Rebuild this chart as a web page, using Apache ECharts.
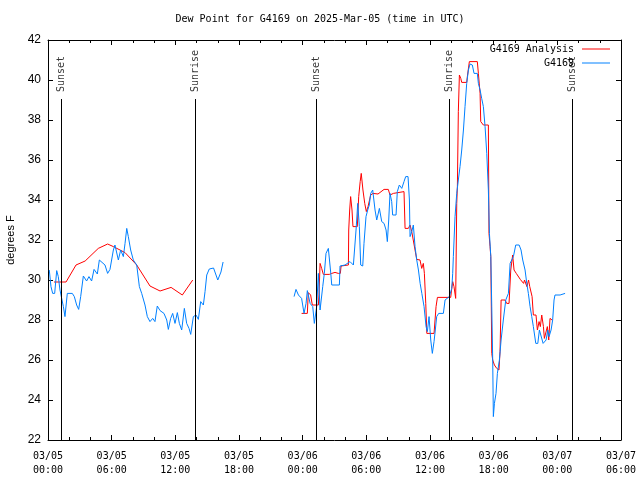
<!DOCTYPE html>
<html>
<head>
<meta charset="utf-8">
<script src="https://cdn.jsdelivr.net/npm/echarts@6/dist/echarts.min.js"></script>
<style>html,body{margin:0;padding:0;background:#fff;}#c{width:640px;height:480px;}</style>
</head>
<body>
<div id="c"></div>
<script>
// Hours since 2025-03-05 00:00 UTC
const analysisHours = [0.57,1.7,2.64,3.5,4.74,5.62,6.16,7.26,8.36,9.61,10.56,11.6,12.66,13.64,18,
  23.9,24.44,24.53,24.75,24.91,25.48,25.54,25.64,25.79,25.95,26.51,26.74,27.05,27.36,27.55,27.62,28.31,28.34,28.43,28.52,28.65,28.74,29.15,29.28,29.42,29.52,29.68,29.85,30.0,30.16,30.41,30.63,31.1,31.67,32.07,32.23,32.55,32.7,33.55,33.65,33.96,34.12,34.28,34.59,34.75,35.06,35.22,35.37,35.47,35.6,35.7,36.38,36.57,36.7,37.95,38.05,38.14,38.26,38.42,38.52,38.58,38.67,38.77,38.9,38.99,39.46,39.52,39.71,40.46,40.56,40.72,40.78,41.03,41.5,41.56,41.66,41.73,41.82,41.91,42.07,42.29,42.5,42.6,42.7,43.07,43.23,43.45,43.61,43.79,43.92,44.13,44.51,44.82,44.91,45.13,45.29,45.4,45.62,45.74,45.99,46.12,46.28,46.4,46.53,46.69,46.78,46.9,47.06,47.19,47.31,47.5];
const analysisValues = [29.9,29.9,30.75,30.95,31.58,31.8,31.67,31.37,30.75,29.7,29.45,29.63,29.25,30.0,null,
  28.33,28.33,29.37,29.25,28.75,28.75,29.25,30.83,30.58,30.28,30.28,30.33,30.38,30.33,30.33,30.7,30.75,32.5,33.5,34.17,33.5,32.67,32.67,34.17,34.92,35.33,34.5,33.83,33.42,33.67,34.25,34.33,34.3,34.53,34.53,34.25,34.33,34.42,34.42,32.58,32.58,32.75,32.42,31.5,31.03,31.0,30.58,30.83,30.33,28.83,27.33,27.33,28.67,29.13,29.13,29.58,29.92,29.67,29.08,33.83,34.67,38.42,40.25,40.08,39.88,39.88,40.17,40.92,40.92,40.33,39.33,37.92,37.75,37.75,32.33,31.67,31.17,26.33,26.0,25.75,25.58,25.5,26.42,29.0,29.0,28.83,28.83,30.5,31.25,30.5,30.33,30.03,29.83,30.0,29.67,30.0,29.67,29.17,28.25,28.25,27.5,27.92,27.67,28.25,27.67,27.08,27.1,27.67,27.0,28.08,28.0];

const stationHours = [0.12,0.28,0.44,0.63,0.82,0.97,1.13,1.32,1.45,1.6,1.82,2.29,2.48,2.7,2.89,3.08,3.33,3.64,3.86,4.11,4.34,4.65,4.84,5.37,5.62,5.84,6.16,6.31,6.63,6.85,7.1,7.26,7.42,7.57,7.79,8.04,8.36,8.61,8.83,9.14,9.36,9.61,9.87,10.08,10.3,10.56,10.93,11.19,11.34,11.56,11.75,11.97,12.19,12.38,12.6,12.85,13.07,13.29,13.45,13.7,13.95,14.17,14.39,14.64,14.8,14.96,15.2,15.6,16.0,16.3,16.5,19,
  23.19,23.37,23.6,23.9,24.13,24.32,24.44,24.7,24.95,25.1,25.32,25.48,25.64,25.89,26.04,26.2,26.42,26.65,26.74,27.46,27.52,27.99,28.46,28.78,29.03,29.19,29.34,29.47,29.66,29.78,29.97,30.13,30.28,30.41,30.6,30.82,30.98,31.23,31.45,31.67,31.86,31.98,32.11,32.23,32.39,32.48,32.8,32.92,33.11,33.34,33.55,33.71,33.93,34.06,34.12,34.28,34.43,34.59,34.75,34.91,35.07,35.23,35.44,35.63,35.75,35.91,36.07,36.22,36.38,36.5,36.63,36.82,37.26,37.42,37.82,37.95,38.05,38.14,38.2,38.36,38.52,38.67,38.83,38.99,39.15,39.3,39.46,39.62,39.77,39.99,40.15,40.31,40.46,40.56,40.72,40.87,41.03,41.19,41.35,41.5,41.6,41.73,41.82,41.91,41.97,42.07,42.22,42.35,42.54,42.7,42.91,43.14,43.39,43.55,43.7,43.86,44.08,44.4,44.58,44.74,44.96,45.12,45.27,45.43,45.59,45.74,45.97,46.16,46.31,46.46,46.66,46.94,47.1,47.22,47.41,47.56,47.69,47.78,48.26,48.73];
const stationValues = [30.5,29.67,29.33,29.33,30.47,30.17,29.5,29.0,28.67,28.17,29.33,29.33,29.17,28.75,28.53,29.17,30.2,29.95,30.17,29.95,30.53,30.3,31.0,30.75,30.33,30.53,31.5,31.75,31.0,31.5,31.17,31.83,32.58,32.17,31.5,31.0,30.75,29.67,29.33,28.75,28.17,27.92,28.08,27.92,28.7,28.47,28.33,28.0,27.53,28.08,28.33,27.83,28.37,27.83,27.5,28.58,27.83,27.58,27.28,28.17,28.25,28.03,28.92,28.75,29.42,30.25,30.55,30.6,30.0,30.4,30.9,null,
  29.17,29.53,29.25,29.08,28.33,28.83,29.47,28.83,28.67,27.83,28.67,30.33,28.5,29.67,30.33,31.33,31.58,30.33,29.75,29.75,30.7,30.75,30.92,30.75,32.5,33.83,32.67,30.75,30.7,31.83,33.17,33.5,33.75,34.33,34.5,33.5,33.0,33.58,32.92,32.83,32.5,31.92,33.0,34.33,33.92,33.25,33.25,34.42,34.75,34.58,34.92,35.17,35.17,34.0,32.17,32.42,32.75,31.67,31.0,30.5,29.83,29.33,28.67,27.67,27.42,28.17,27.0,26.33,26.92,27.5,28.17,28.33,28.33,29.0,29.17,29.17,29.58,30.33,31.17,33.17,34.33,35.0,35.67,36.5,37.5,38.67,39.83,40.5,40.8,40.75,40.33,40.42,40.33,39.83,39.5,39.08,38.67,37.67,36.33,34.5,32.33,31.17,28.67,26.0,23.17,23.83,24.33,25.33,26.0,27.0,28.0,29.0,29.33,30.83,31.0,31.17,31.75,31.75,31.5,31.0,30.5,29.83,29.33,28.67,28.17,27.67,26.83,26.83,27.5,27.5,26.83,27.0,27.5,27.17,27.5,28.0,29.0,29.25,29.25,29.33];

const eventHours = [1.25, 13.85, 25.3, 37.8, 49.45];
const eventNames = ['Sunset', 'Sunrise', 'Sunset', 'Sunrise', 'Sunset'];
const eventTop = 39.05;

const yMin = 22, yMax = 42, yStep = 2;
const xMin = 0, xMax = 54, xStep = 6;

const mono = 'DejaVu Sans Mono';
const sans = 'Liberation Sans';

function fmtHour(h) {
  const day = 5 + Math.floor(h / 24);
  const hh = Math.round(h % 24);
  return '03/' + String(day).padStart(2, '0') + '\n' + String(hh).padStart(2, '0') + ':00';
}
function pairs(xs, ys) { return xs.map((x, i) => [x, ys[i]]); }

const chart = echarts.init(document.getElementById('c'), null, {renderer: 'canvas'});
const axisLineStyle = {lineStyle: {color: '#000', width: 1}};
const baseX = {
  type: 'value', min: xMin, max: xMax, interval: xStep,
  axisLine: Object.assign({onZero: false}, axisLineStyle),
  axisTick: {inside: true, length: 5, lineStyle: {color: '#000'}},
  minorTick: {show: true, splitNumber: 3, length: 3, lineStyle: {color: '#000'}},
  splitLine: {show: false}, minorSplitLine: {show: false}
};
const baseY = {
  type: 'value', min: yMin, max: yMax, interval: yStep,
  axisLine: Object.assign({onZero: false}, axisLineStyle),
  axisTick: {inside: true, length: 5, lineStyle: {color: '#000'}},
  splitLine: {show: false}
};
const legendText = {fontFamily: mono, fontSize: 10, color: '#000', padding: [0, 3, 0, 0]};

chart.setOption({
  animation: false,
  backgroundColor: '#fff',
  title: {
    text: 'Dew Point for G4169 on 2025-Mar-05 (time in UTC)',
    left: 'center', top: 9,
    textStyle: {fontFamily: mono, fontSize: 10, fontWeight: 'normal', color: '#000'}
  },
  grid: {left: 48, right: 19, top: 40, bottom: 40, containLabel: false, outerBoundsMode: 'none'},
  legend: [
    {data: ['G4169 Analysis'], right: 30, top: 44, padding: 0, orient: 'vertical', align: 'right',
     icon: 'rect', itemWidth: 28, itemHeight: 1, itemGap: 0, textStyle: legendText},
    {data: ['G4169'], right: 30, top: 58, padding: 0, orient: 'vertical', align: 'right',
     icon: 'rect', itemWidth: 28, itemHeight: 1, itemGap: 0, textStyle: legendText}
  ],
  xAxis: [
    Object.assign({}, baseX, {
      position: 'bottom',
      axisLabel: {formatter: fmtHour, fontFamily: mono, fontSize: 10, color: '#000', lineHeight: 14, margin: 9}
    }),
    Object.assign({}, baseX, {position: 'top', axisLabel: {show: false}})
  ],
  yAxis: [
    Object.assign({}, baseY, {
      position: 'left',
      name: 'degrees F', nameLocation: 'middle', nameGap: 32,
      nameTextStyle: {fontFamily: sans, fontSize: 11, color: '#000'},
      axisLabel: {fontFamily: sans, fontSize: 12, color: '#000', margin: 7}
    }),
    Object.assign({}, baseY, {position: 'right', axisLabel: {show: false}})
  ],
  series: [
    {
      name: 'G4169 Analysis', type: 'line', data: pairs(analysisHours, analysisValues),
      showSymbol: false, connectNulls: false, color: '#ff0000',
      lineStyle: {width: 1, color: '#ff0000'}, z: 3
    },
    {
      name: 'G4169', type: 'line', data: pairs(stationHours, stationValues),
      showSymbol: false, connectNulls: false, color: '#0080ff',
      lineStyle: {width: 1, color: '#0080ff'}, z: 4
    },
    {
      name: 'events', type: 'scatter', silent: true, symbolSize: 0,
      data: eventHours.map((h, i) => ({value: [h, eventTop], name: eventNames[i]})),
      label: {
        show: true, formatter: p => p.name, position: 'top', distance: 7,
        rotate: 90, align: 'left', verticalAlign: 'middle',
        fontFamily: mono, fontSize: 10, color: '#000'
      },
      markLine: {
        silent: true, symbol: 'none',
        lineStyle: {color: '#000', width: 1, type: 'solid'},
        label: {show: false},
        data: eventHours.map(h => [{coord: [h, yMin]}, {coord: [h, eventTop]}])
      }
    }
  ]
});
</script>
</body>
</html>
